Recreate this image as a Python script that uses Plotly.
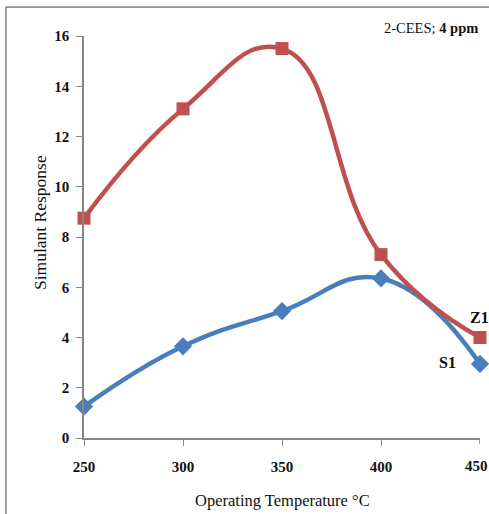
import plotly.graph_objects as go

# Operating temperature (°C) and sensor response to 2-CEES at 4 ppm
temperature = [250, 300, 350, 400, 450]
z1_response = [8.75, 13.1, 15.5, 7.3, 4.0]
s1_response = [1.25, 3.65, 5.05, 6.35, 2.95]

x_ticks = [250, 300, 350, 400, 450]
y_ticks = [0, 2, 4, 6, 8, 10, 12, 14, 16]

RED = "#C0504D"
BLUE = "#4A7EBB"
AXIS = "#868686"
SERIF = "Liberation Serif, Times New Roman, serif"

fig = go.Figure()

fig.add_trace(go.Scatter(
    x=temperature, y=s1_response, name="S1",
    mode="lines+markers",
    line=dict(color=BLUE, width=4.5, shape="spline", smoothing=1.3),
    marker=dict(symbol="diamond", size=14, color=BLUE),
    cliponaxis=False,
))
fig.add_trace(go.Scatter(
    x=temperature, y=z1_response, name="Z1",
    mode="lines+markers",
    line=dict(color=RED, width=4.5, shape="spline", smoothing=1.3),
    marker=dict(symbol="square", size=13, color=RED),
    cliponaxis=False,
))

annotations = [
    dict(x=1.0, y=1.02, xref="paper", yref="paper", xanchor="right", yanchor="middle",
         text="2-CEES; <b>4 ppm</b>", showarrow=False,
         font=dict(family=SERIF, size=14.5, color="#111111")),
    dict(x=temperature[-1], y=z1_response[-1], xref="x", yref="y",
         text="<b>Z1</b>", showarrow=False, xshift=-1, yshift=20,
         font=dict(family=SERIF, size=16, color="#111111")),
    dict(x=temperature[-1], y=s1_response[-1], xref="x", yref="y",
         text="<b>S1</b>", showarrow=False, xshift=-33, yshift=1,
         font=dict(family=SERIF, size=16, color="#111111")),
    # last x tick label sits at the right edge of the figure
    dict(x=temperature[-1], y=0, xref="x", yref="y", yanchor="top",
         text="<b>450</b>", showarrow=False, xshift=-4, yshift=-18,
         font=dict(family=SERIF, size=15, color="#111111")),
    dict(x=0.5, y=-0.155, xref="paper", yref="paper", xanchor="center", yanchor="middle",
         text="Operating Temperature °C", showarrow=False,
         font=dict(family=SERIF, size=16.5, color="#111111")),
    dict(x=-0.111, y=0.535, xref="paper", yref="paper", xanchor="center", yanchor="middle",
         text="Simulant Response", showarrow=False, textangle=-90,
         font=dict(family=SERIF, size=17.5, color="#111111")),
]

shapes = [
    # outer frame of the chart area
    dict(type="line", xref="paper", yref="paper", x0=-0.197, x1=-0.197, y0=-0.3, y1=1.072,
         line=dict(color="#404040", width=1)),
    dict(type="line", xref="paper", yref="paper", x0=-0.197, x1=1.1, y0=1.072, y1=1.072,
         line=dict(color="#404040", width=1)),
]

fig.update_layout(
    width=489, height=514,
    margin=dict(l=84, r=9, t=36, b=76),
    paper_bgcolor="white", plot_bgcolor="white",
    showlegend=False,
    annotations=annotations,
    shapes=shapes,
    xaxis=dict(
        range=[250, 450], tickvals=x_ticks[:-1], ticktext=[str(v) for v in x_ticks[:-1]],
        showgrid=False, zeroline=False, showline=True, linecolor=AXIS, linewidth=1.5,
        ticks="outside", ticklen=6, tickcolor=AXIS, ticklabelstandoff=8,
        tickfont=dict(family=SERIF, size=15, color="#111111", weight="bold"),
    ),
    yaxis=dict(
        range=[0, 16], tickvals=y_ticks, ticktext=[str(v) for v in y_ticks],
        showgrid=False, zeroline=False, showline=True, linecolor=AXIS, linewidth=1.5,
        ticks="outside", ticklen=6, tickcolor=AXIS, ticklabelstandoff=4,
        tickfont=dict(family=SERIF, size=15, color="#111111", weight="bold"),
    ),
)

# tick mark for the last x position (its label is drawn as an annotation)
fig.add_shape(type="line", xref="x", yref="paper", x0=450, x1=450, y0=0, y1=-0.015,
              line=dict(color=AXIS, width=1.5))

fig.write_html("out.html")
